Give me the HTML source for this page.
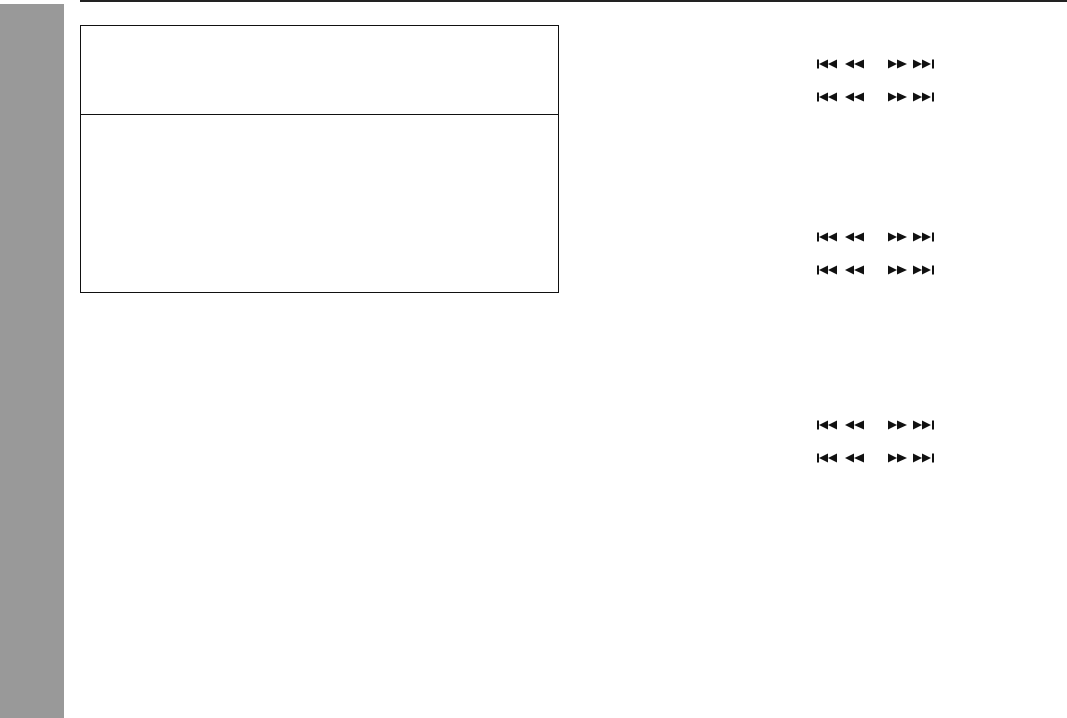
<!DOCTYPE html>
<html><head><meta charset="utf-8"><style>
html,body{margin:0;padding:0;background:#fff;}
body{width:1067px;height:718px;position:relative;overflow:hidden;font-family:"Liberation Sans",sans-serif;}
</style></head><body>
<div style="position:absolute;left:0;top:4px;width:64px;height:714px;background:#999;"></div>
<div style="position:absolute;left:80px;top:0;width:987px;height:2px;background:#222;"></div>
<div style="position:absolute;left:80px;top:25px;width:477px;height:266px;border:1px solid #111;"></div>
<div style="position:absolute;left:80px;top:114px;width:479px;height:1px;background:#111;"></div>
<svg width="1067" height="718" style="position:absolute;left:0;top:0">
<defs>
<g id="ic" fill="#111">
<!-- |<< -->
<rect x="817" y="-4.5" width="2" height="9"/>
<polygon points="819,0 828,-4.5 828,4.5"/>
<polygon points="828,0 837,-4.5 837,4.5"/>
<!-- << -->
<polygon points="845,0 854,-4.5 854,4.5"/>
<polygon points="854,0 864,-4.5 864,4.5"/>
<!-- >> -->
<polygon points="888,-4.5 897,0 888,4.5"/>
<polygon points="897,-4.5 907,0 897,4.5"/>
<!-- >>| -->
<polygon points="913,-4.5 922,0 913,4.5"/>
<polygon points="922,-4.5 931,0 922,4.5"/>
<rect x="932" y="-4.5" width="2" height="9"/>
</g>
</defs>
<use href="#ic" y="64"/>
<use href="#ic" y="97"/>
<use href="#ic" y="237"/>
<use href="#ic" y="270"/>
<use href="#ic" y="425"/>
<use href="#ic" y="458"/>
</svg>
</body></html>
